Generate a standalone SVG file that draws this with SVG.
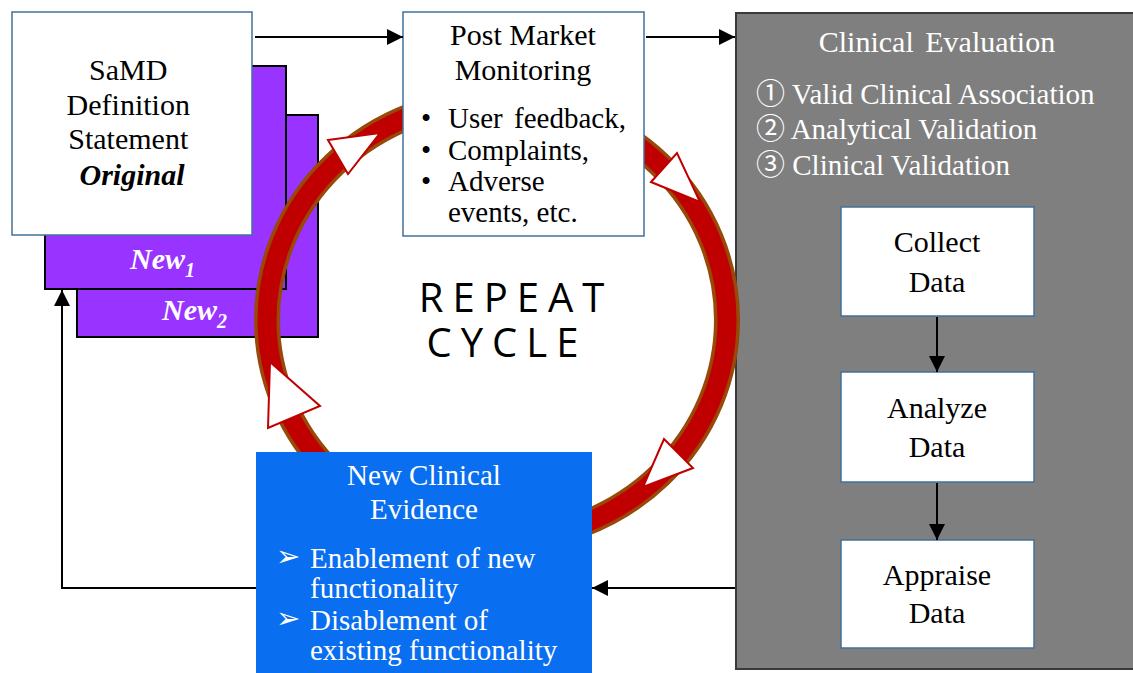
<svg xmlns="http://www.w3.org/2000/svg" width="1133" height="673" viewBox="0 0 1133 673">
<defs>
<marker id="arrow" viewBox="0 0 16 16" refX="16" refY="8" markerWidth="16" markerHeight="16" markerUnits="userSpaceOnUse" orient="auto">
<path d="M0,0 L16,8 L0,16 z" fill="#000"/>
</marker>
</defs>
<style>
.box{fill:#fff;stroke:#41719C;stroke-width:1.5}
.purple{fill:#9933FF;stroke:#000;stroke-width:2}
.serif{font-family:"Liberation Serif","Times New Roman",serif}
.t30{font-size:30px}
.t29{font-size:29px}
.dark{fill:#000}
.white{fill:#fff}
.conn{fill:none;stroke:#000;stroke-width:2}
.tri{fill:#fff;stroke:#C00000;stroke-width:2;stroke-linejoin:miter}
</style>
<rect width="1133" height="673" fill="#fff"/>

<g id="new2">
<rect class="purple" x="77" y="115" width="241" height="222"/>
<text class="serif white" x="162" y="320" font-size="30" font-weight="bold" font-style="italic">New<tspan font-size="20" dy="8">2</tspan></text>
</g>
<g id="new1">
<rect class="purple" x="45" y="66" width="241" height="223"/>
<text class="serif white" x="130" y="269" font-size="30" font-weight="bold" font-style="italic">New<tspan font-size="20" dy="8">1</tspan></text>
</g>
<g id="samd">
<rect class="box" x="12" y="12" width="240" height="223"/>
<text class="serif t30 dark" text-anchor="middle">
<tspan x="132" y="80">SaMD</tspan>
<tspan x="132" y="115">Definition</tspan>
<tspan x="132" y="149">Statement</tspan>
<tspan x="132" y="185" font-weight="bold" font-style="italic">Original</tspan>
</text>
</g>

<g id="clinical-evaluation">
<rect x="736" y="13" width="400" height="656" fill="#7F7F7F" stroke="#3A3A3A" stroke-width="2"/>
<text class="serif t30 white" x="937" y="52" text-anchor="middle" word-spacing="4">Clinical Evaluation</text>
<text class="t29 white" font-family="'Liberation Serif','Noto Sans CJK JP',serif">
<tspan x="756" y="104">① Valid Clinical Association</tspan>
<tspan x="756" y="139">② Analytical Validation</tspan>
<tspan x="756" y="175">③ Clinical Validation</tspan>
</text>
</g>
<g id="collect-data">
<rect class="box" x="841" y="207" width="193" height="109"/>
<text class="serif t30 dark" text-anchor="middle"><tspan x="937" y="252">Collect</tspan><tspan x="937" y="292">Data</tspan></text>
</g>
<g id="analyze-data">
<rect class="box" x="841" y="372" width="193" height="110"/>
<text class="serif t30 dark" text-anchor="middle"><tspan x="937" y="418">Analyze</tspan><tspan x="937" y="457">Data</tspan></text>
</g>
<g id="appraise-data">
<rect class="box" x="841" y="540" width="193" height="108"/>
<text class="serif t30 dark" text-anchor="middle"><tspan x="937" y="585">Appraise</tspan><tspan x="937" y="623">Data</tspan></text>
</g>

<g id="repeat-cycle">
<ellipse cx="497" cy="320" rx="230" ry="220" fill="none" stroke="#984807" stroke-width="26"/>
<ellipse cx="497" cy="320" rx="230" ry="220" fill="none" stroke="#C00000" stroke-width="19"/>
<polygon class="tri" points="328,140 380,133 348,174"/>
<polygon class="tri" points="651,182 677,153 700,202"/>
<polygon class="tri" points="270,362 320,406 268,428"/>
<polygon class="tri" points="664,439 693,468 643,487"/>
<text font-family="'Open Sans',sans-serif" font-size="40" fill="#000" text-anchor="middle" letter-spacing="9" x="516" y="312">REPEAT</text>
<text font-family="'Open Sans',sans-serif" font-size="40" fill="#000" text-anchor="middle" letter-spacing="9" x="507" y="357">CYCLE</text>
</g>

<g id="post-market">
<rect class="box" x="403" y="12" width="241" height="224"/>
<text class="serif t30 dark" text-anchor="middle"><tspan x="523" y="45">Post Market</tspan><tspan x="523" y="80">Monitoring</tspan></text>
<text class="serif t29 dark">
<tspan x="421" y="128">•</tspan><tspan x="448" y="128" word-spacing="4">User feedback,</tspan>
<tspan x="421" y="160">•</tspan><tspan x="448" y="160">Complaints,</tspan>
<tspan x="421" y="191">•</tspan><tspan x="448" y="191">Adverse</tspan>
<tspan x="448" y="222">events, etc.</tspan>
</text>
</g>

<g id="new-clinical-evidence">
<rect x="256" y="452" width="336" height="225" fill="#0A6EF0"/>
<text class="serif t29 white" text-anchor="middle"><tspan x="424" y="485">New Clinical</tspan><tspan x="424" y="519">Evidence</tspan></text>
<text class="t29 white" font-family="'DejaVu Sans',sans-serif" font-size="22"><tspan x="276" y="566">➢</tspan><tspan x="276" y="628">➢</tspan></text>
<text class="serif t29 white">
<tspan x="310" y="568">Enablement of new</tspan>
<tspan x="310" y="598">functionality</tspan>
<tspan x="310" y="630">Disablement of</tspan>
<tspan x="310" y="660">existing functionality</tspan>
</text>
</g>

<g id="connectors">
<path class="conn" d="M255,37 H403" marker-end="url(#arrow)"/>
<path class="conn" d="M646,37 H735" marker-end="url(#arrow)"/>
<path class="conn" d="M937,317 V372" marker-end="url(#arrow)"/>
<path class="conn" d="M937,483 V540" marker-end="url(#arrow)"/>
<path class="conn" d="M735,588 H592" marker-end="url(#arrow)"/>
<path class="conn" d="M256,588 H62 V290" marker-end="url(#arrow)"/>
</g>
</svg>
